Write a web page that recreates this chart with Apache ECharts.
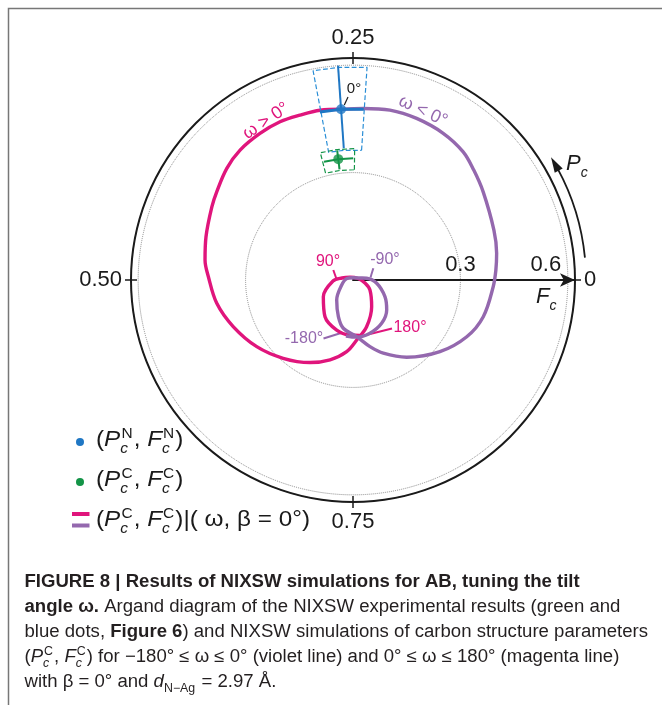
<!DOCTYPE html>
<html><head><meta charset="utf-8">
<script src="https://cdn.jsdelivr.net/npm/echarts@6/dist/echarts.min.js"></script>
<style>html,body{margin:0;padding:0;background:#fff}#c{width:662px;height:705px}</style>
</head><body><div id="c"></div>
<script>
// ---------------- data ----------------
const phaseTickValues = [0, 0.25, 0.5, 0.75];
const phaseTickLabels = ['0', '0.25', '0.50', '0.75'];
const amplitudeTickLabels = ['0.3', '0.6'];

// simulation 0 <= omega <= 180 (magenta), ordered from omega = 0
const magentaF = [0.478, 0.483, 0.4837, 0.4865, 0.4848, 0.4807, 0.4706, 0.4533, 0.444, 0.428, 0.417, 0.404, 0.386, 0.359, 0.327, 0.293, 0.260, 0.232, 0.201, 0.168, 0.136, 0.091, 0.055, 0.0345, 0.0146, 0.0113, 0.0312, 0.0559, 0.095, 0.129, 0.147, 0.154, 0.156];
const magentaP = [0.2611, 0.2805, 0.2995, 0.3188, 0.340, 0.3639, 0.3847, 0.4086, 0.4239, 0.4544, 0.4786, 0.4964, 0.527, 0.559, 0.5964, 0.634, 0.6736, 0.7055, 0.736, 0.7598, 0.795, 0.847, 0.915, 0.961, 0.0464, 0.383, 0.4714, 0.508, 0.5814, 0.6464, 0.6998, 0.7414, 0.770];

// simulation -180 <= omega <= 0 (violet), ordered from omega = 0
const violetF = [0.478, 0.480, 0.4856, 0.485, 0.481, 0.472, 0.456, 0.439, 0.4175, 0.408, 0.400, 0.392, 0.378, 0.355, 0.3146, 0.2627, 0.2214, 0.192, 0.1586, 0.1375, 0.110, 0.072, 0.0345, 0.0173, 0.0061, 0.0203, 0.0385, 0.0668, 0.1007, 0.126, 0.145, 0.156, 0.160, 0.1576];
const violetP = [0.2611, 0.2405, 0.2159, 0.1903, 0.1623, 0.137, 0.1175, 0.0947, 0.0542, 0.0292, 0.0111, 0.9924, 0.9563, 0.9264, 0.8903, 0.8467, 0.8125, 0.7897, 0.7603, 0.7184, 0.6895, 0.6411, 0.5664, 0.461, 0.25, 0.0442, 0.0196, 0.978, 0.9233, 0.8842, 0.843, 0.799, 0.7603, 0.730];

// experiment: nitrogen (blue) and carbon (green)
const nitrogenF = [0.478], nitrogenP = [0.2611];
const nitrogenErrF = [0.369, 0.600], nitrogenErrP = [0.240, 0.281];
const nitrogenBoxF = [0.363, 0.595], nitrogenBoxP = [0.2395, 0.280];
const carbonF = [0.340], carbonP = [0.2693];
const carbonErrF = [0.311, 0.365], carbonErrP = [0.2497, 0.2883];
const carbonBoxF = [0.308, 0.367], carbonBoxP = [0.248, 0.290];

// ---------------- styling ----------------
const MAG = '#e0157c', VIO = '#9468ae', BLUE = '#1f77c4', BLUE_L = '#2a8ed6', GREEN = '#139447', INK = '#1a1a1a';
const FONT = '"Liberation Sans", Arial, sans-serif';
const CX = 353, CY = 280, R = 222;

const pairs = (F, P) => F.map((f, i) => [f, P[i]]);
function boxData(F, P, pc) {
  return [[F[0], P[0]], [F[1], P[0]], [F[1], pc], [F[1], P[1]], [F[0], P[1]], [F[0], pc], [F[0], P[0]]];
}

const mctx = document.createElement('canvas').getContext('2d');
function fontStr(st, size) { return (st && st.includes('i') ? 'italic ' : '') + (st && st.includes('b') ? 'bold ' : '') + size + 'px ' + FONT; }
function tw(t, f) { mctx.font = f; return mctx.measureText(t).width; }
function txt(t, x, dy, f, color, size) {
  return { type: 'text', x: x, y: dy - 0.35 * size, silent: true, style: { text: t, font: f, fill: color, verticalAlign: 'middle', align: 'left' } };
}
function lineWidth(runs, size) {
  let x = 0; const s2 = Math.round(size * 0.64);
  runs.forEach(r => {
    if (r.ss) x += Math.max(tw(r.ss[0], fontStr('', s2)) + 1, tw(r.ss[1], fontStr('i', s2))) + 1;
    else if (r.sub) x += tw(r.sub, fontStr(r.st || '', s2)) + 1;
    else x += tw(r.t, fontStr(r.st, size));
  });
  return x;
}
function textLine(x0, base, runs, size, color, scaleX) {
  const kids = []; let x = 0; const s2 = Math.round(size * 0.64);
  runs.forEach(r => {
    if (r.ss) {
      const fs = fontStr('', s2), fb = fontStr('i', s2);
      kids.push(txt(r.ss[0], x + 1, -0.42 * size, fs, color, s2));
      kids.push(txt(r.ss[1], x, 0.26 * size, fb, color, s2));
      x += Math.max(tw(r.ss[0], fs) + 1, tw(r.ss[1], fb)) + 1;
    } else if (r.sub) {
      const fs = fontStr(r.st || '', s2);
      kids.push(txt(r.sub, x, 0.26 * size, fs, color, s2));
      x += tw(r.sub, fs) + 1;
    } else {
      const f = fontStr(r.st, size);
      kids.push(txt(r.t, x, 0, f, color, size));
      x += tw(r.t, f);
    }
  });
  return { type: 'group', x: x0, y: base, scaleX: scaleX || 1, children: kids };
}

// caption
const capRuns = [
  [{ t: 'FIGURE 8 | Results of NIXSW simulations for AB, tuning the tilt', st: 'b' }],
  [{ t: 'angle ω.', st: 'b' }, { t: ' Argand diagram of the NIXSW experimental results (green and' }],
  [{ t: 'blue dots, ' }, { t: 'Figure 6', st: 'b' }, { t: ') and NIXSW simulations of carbon structure parameters' }],
  [{ t: '(' }, { t: 'P', st: 'i' }, { ss: ['C', 'c'] }, { t: ', ' }, { t: 'F', st: 'i' }, { ss: ['C', 'c'] }, { t: ') for −180° ≤ ω ≤ 0° (violet line) and 0° ≤ ω ≤ 180° (magenta line)' }],
  [{ t: 'with β = 0° and ' }, { t: 'd', st: 'i' }, { sub: 'N−Ag' }, { t: ' = 2.97 Å.' }]
];
const CAP = 18;
const capScale = 623.5 / lineWidth(capRuns[2], CAP);

// legend
const LEG = 22;
const legRuns = [
  [{ t: '(' }, { t: 'P', st: 'i' }, { ss: ['N', 'c'] }, { t: ', ' }, { t: 'F', st: 'i' }, { ss: ['N', 'c'] }, { t: ')' }],
  [{ t: '(' }, { t: 'P', st: 'i' }, { ss: ['C', 'c'] }, { t: ', ' }, { t: 'F', st: 'i' }, { ss: ['C', 'c'] }, { t: ')' }],
  [{ t: '(' }, { t: 'P', st: 'i' }, { ss: ['C', 'c'] }, { t: ', ' }, { t: 'F', st: 'i' }, { ss: ['C', 'c'] }, { t: ')|( ω, β = 0°)' }]
];
const legScale = 214 / lineWidth(legRuns[2], LEG);

// curved P_c arrow (decoration)
const a0 = 5.5 * Math.PI / 180, a1 = 28 * Math.PI / 180, aT = 31.8 * Math.PI / 180, RA = 233;
const tip = [CX + RA * Math.cos(aT), CY - RA * Math.sin(aT)];
const bl = [CX + (RA + 4.5) * Math.cos(a1), CY - (RA + 4.5) * Math.sin(a1)];
const br = [CX + (RA - 4.5) * Math.cos(a1), CY - (RA - 4.5) * Math.sin(a1)];

function label(t, x, y, color, size, rot) {
  return { type: 'text', x: x, y: y, rotation: rot || 0, silent: true, style: { text: t, font: size + 'px ' + FONT, fill: color, align: 'center', verticalAlign: 'middle' } };
}
function seg(x1, y1, x2, y2, color, w) {
  return { type: 'line', silent: true, shape: { x1, y1, x2, y2 }, style: { stroke: color, lineWidth: w } };
}

const graphic = [
  { type: 'rect', silent: true, shape: { x: 8.5, y: 8.5, width: 720, height: 760 }, style: { fill: 'none', stroke: '#777', lineWidth: 1.5 } },
  // omega annotations
  label('ω > 0°', 266, 121, MAG, 18, 34 * Math.PI / 180),
  label('ω < 0°', 423, 111, VIO, 18, -25 * Math.PI / 180),
  label('0°', 354, 89, INK, 15),
  seg(348, 97, 344.3, 105, INK, 1.2),
  label('90°', 328, 262, MAG, 16),
  seg(333.3, 270, 336.5, 279, MAG, 2),
  label('-90°', 385, 260, VIO, 16),
  seg(373.3, 268.3, 370.5, 277.5, VIO, 2),
  label('180°', 410, 328, MAG, 16),
  seg(392, 328.5, 366, 335, MAG, 2),
  label('-180°', 304, 339, VIO, 16),
  seg(323.5, 338.5, 341, 333, VIO, 2),
  // P_c arrow and labels
  { type: 'arc', silent: true, shape: { cx: CX, cy: CY, r: RA, startAngle: -a1 - 0.01, endAngle: -a0, clockwise: true }, style: { stroke: INK, lineWidth: 1.8, fill: 'none' } },
  { type: 'polygon', silent: true, shape: { points: [tip, bl, br] }, style: { fill: INK } },
  textLine(566, 172, [{ t: 'P', st: 'i' }, { sub: 'c', st: 'i' }], 22, INK, 1),
  textLine(536, 305, [{ t: 'F', st: 'i' }, { sub: 'c', st: 'i' }], 22, INK, 1),
  // legend
  { type: 'circle', silent: true, shape: { cx: 80, cy: 442, r: 4 }, style: { fill: BLUE } },
  { type: 'circle', silent: true, shape: { cx: 80, cy: 482, r: 4 }, style: { fill: GREEN } },
  { type: 'rect', silent: true, shape: { x: 72, y: 512, width: 17.5, height: 4 }, style: { fill: MAG } },
  { type: 'rect', silent: true, shape: { x: 72, y: 523.5, width: 17.5, height: 4 }, style: { fill: VIO } },
  textLine(96, 448, legRuns[0], LEG, INK, legScale),
  textLine(96, 488, legRuns[1], LEG, INK, legScale),
  textLine(96, 528, legRuns[2], LEG, INK, legScale)
];
capRuns.forEach((r, i) => graphic.push(textLine(24.5, 588 + 25 * i, r, CAP, '#231f20', capScale)));

const chart = echarts.init(document.getElementById('c'), null, { renderer: 'canvas' });
chart.setOption({
  animation: false,
  backgroundColor: '#fff',
  polar: [{ center: [CX, CY], radius: R }, { center: [CX, CY], radius: R }],
  angleAxis: [{
    polarIndex: 0, type: 'value', min: 0, max: 1, interval: 0.25, startAngle: 0, clockwise: false,
    axisLine: { lineStyle: { color: INK, width: 2 } },
    axisTick: { length: 6, lineStyle: { color: INK, width: 1.5 } },
    axisLabel: {
      margin: 9, fontSize: 22, fontFamily: FONT, color: INK,
      formatter: v => { const i = phaseTickValues.findIndex(t => Math.abs(t - v) < 1e-6); return i >= 0 ? phaseTickLabels[i] : ''; }
    },
    splitLine: { show: false }
  }, {
    polarIndex: 1, type: 'value', min: 0, max: 1, interval: 0.25, startAngle: 0, clockwise: false,
    axisLine: { show: false }, axisTick: { inside: true, length: 6, lineStyle: { color: INK, width: 1.5 } },
    axisLabel: { show: false }, splitLine: { show: false }
  }],
  radiusAxis: [{
    polarIndex: 0, type: 'value', min: 0, max: 0.62, interval: 0.3,
    axisLine: { show: true, symbol: ['none', 'arrow'], symbolSize: [10, 15], lineStyle: { color: INK, width: 2 } },
    axisTick: { show: false },
    axisLabel: {
      margin: 4, fontSize: 22, fontFamily: FONT, color: INK,
      formatter: v => Math.abs(v - 0.3) < 1e-6 ? '{a|' + amplitudeTickLabels[0] + '}' : (Math.abs(v - 0.6) < 1e-6 ? '{b|' + amplitudeTickLabels[1] + '}' : ''),
      rich: { a: { fontSize: 22, fontFamily: FONT, color: INK }, b: { fontSize: 22, fontFamily: FONT, color: INK, padding: [0, 44, 0, 0] } }
    },
    splitLine: { show: true, lineStyle: { type: 'dotted', color: '#8a8a8a', width: 1 } }
  }, {
    polarIndex: 1, type: 'value', min: 0, max: 0.62, show: false
  }],
  series: [
    { type: 'line', coordinateSystem: 'polar', polarIndex: 0, data: pairs(magentaF, magentaP), showSymbol: false, smooth: 0.35, lineStyle: { color: MAG, width: 3.4, join: 'round' }, z: 2, silent: true },
    { type: 'line', coordinateSystem: 'polar', polarIndex: 0, data: pairs(violetF, violetP), showSymbol: false, smooth: 0.35, lineStyle: { color: VIO, width: 3.4, join: 'round' }, z: 2, silent: true },
    { type: 'line', coordinateSystem: 'polar', polarIndex: 0, data: boxData(nitrogenBoxF, nitrogenBoxP, nitrogenP[0]), showSymbol: false, lineStyle: { color: BLUE_L, width: 1.2, type: 'dashed' }, z: 3, silent: true },
    { type: 'line', coordinateSystem: 'polar', polarIndex: 0, data: boxData(carbonBoxF, carbonBoxP, carbonP[0]), showSymbol: false, lineStyle: { color: GREEN, width: 1.2, type: 'dashed' }, z: 3, silent: true },
    { type: 'line', coordinateSystem: 'polar', polarIndex: 0, data: [[nitrogenErrF[0], nitrogenP[0]], [nitrogenErrF[1], nitrogenP[0]]], showSymbol: false, lineStyle: { color: BLUE, width: 2 }, z: 4, silent: true },
    { type: 'line', coordinateSystem: 'polar', polarIndex: 0, data: [[nitrogenF[0], nitrogenErrP[0]], [nitrogenF[0], nitrogenP[0]], [nitrogenF[0], nitrogenErrP[1]]], showSymbol: false, lineStyle: { color: BLUE, width: 3 }, z: 4, silent: true },
    { type: 'line', coordinateSystem: 'polar', polarIndex: 0, data: [[carbonErrF[0], carbonP[0]], [carbonErrF[1], carbonP[0]]], showSymbol: false, lineStyle: { color: GREEN, width: 2 }, z: 4, silent: true },
    { type: 'line', coordinateSystem: 'polar', polarIndex: 0, data: [[carbonF[0], carbonErrP[0]], [carbonF[0], carbonP[0]], [carbonF[0], carbonErrP[1]]], showSymbol: false, lineStyle: { color: GREEN, width: 2 }, z: 4, silent: true },
    { type: 'scatter', coordinateSystem: 'polar', polarIndex: 0, data: pairs(nitrogenF, nitrogenP), symbolSize: 10, itemStyle: { color: BLUE }, z: 5, silent: true },
    { type: 'scatter', coordinateSystem: 'polar', polarIndex: 0, data: pairs(carbonF, carbonP), symbolSize: 10, itemStyle: { color: GREEN }, z: 5, silent: true }
  ],
  graphic: graphic
});
</script></body></html>
